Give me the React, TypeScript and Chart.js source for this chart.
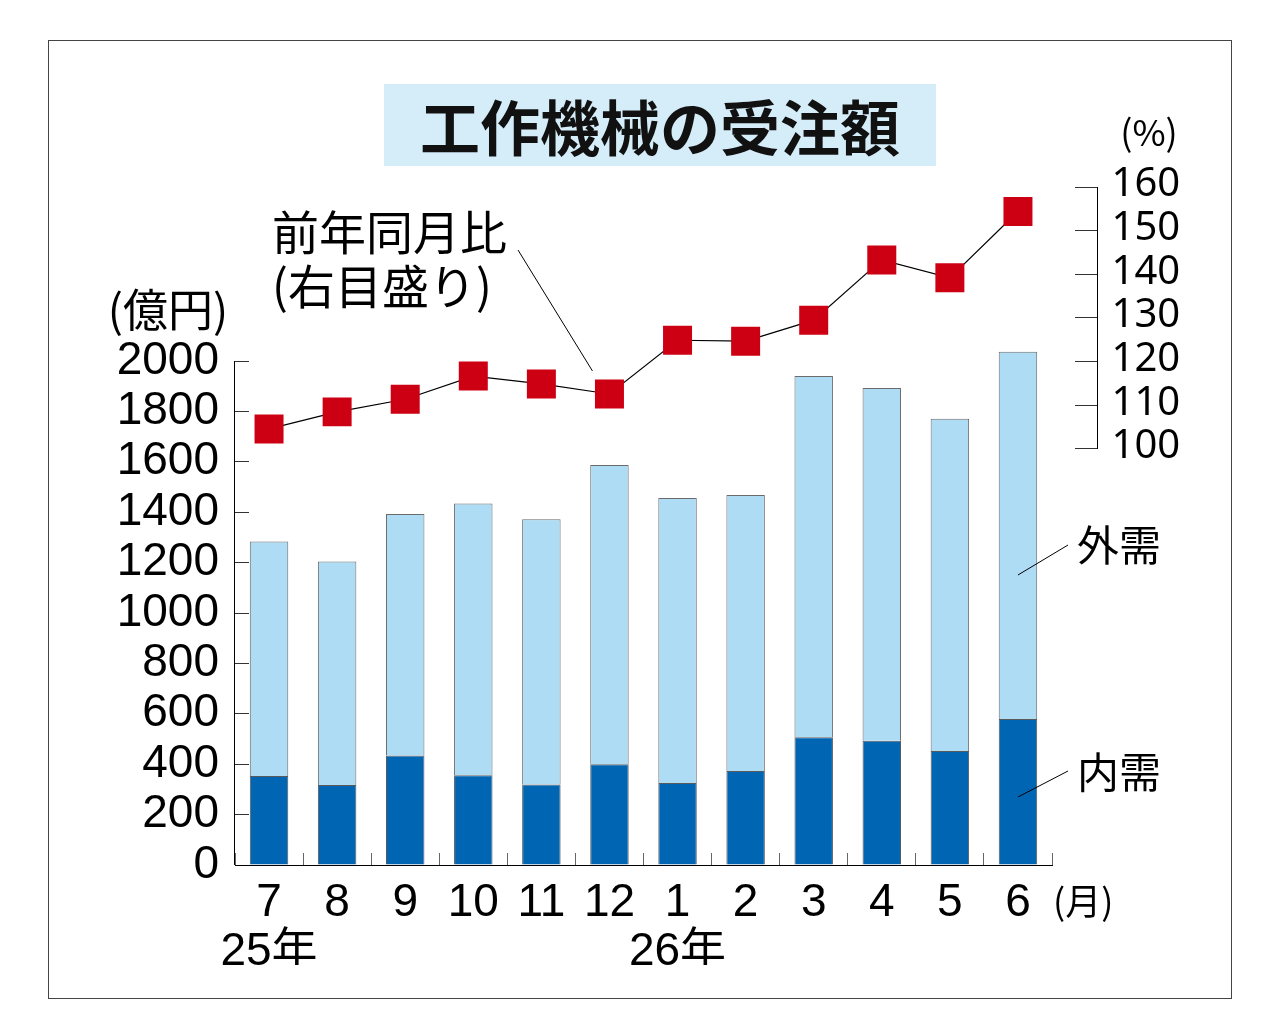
import { useEffect, useRef } from 'react';
import { Chart, registerables } from 'chart.js';

Chart.register(...registerables);

// 月（25年7月〜26年6月）
const months = [['7', '25年'], '8', '9', '10', '11', '12', ['1', '26年'], '2', '3', '4', '5', '6'];
// 内需・外需（億円）
const domestic = [353, 317, 435, 356, 319, 400, 325, 373, 507, 493, 452, 579];
const foreign = [931, 887, 958, 1079, 1053, 1187, 1131, 1095, 1433, 1400, 1319, 1458];
// 前年同月比（%）
const yoyRatio = [104.6, 108.5, 111.4, 116.7, 114.9, 112.6, 124.9, 124.7, 129.5, 143.3, 139.2, 154.4];

const amountTicks = [0, 200, 400, 600, 800, 1000, 1200, 1400, 1600, 1800, 2000];
const ratioTicks = [100, 110, 120, 130, 140, 150, 160];

// axis ranges chosen so both scales line up with the printed frame
const amountMax = 2690.5;
const ratioMin = 4.73;
const ratioMax = 160;
const ratioAxisAt = 12.175; // right scale sits past the last month

const jp = '"Noto Sans CJK JP", "Noto Sans", sans-serif';

const overlay = {
  id: 'overlay',
  afterDraw(chart) {
    const { ctx, chartArea, scales } = chart;
    const x = scales.x;
    const y = scales.y;
    const y1 = scales.y1;
    ctx.save();
    ctx.strokeStyle = '#000';
    ctx.lineWidth = 1;

    const line = (x1, yA, x2, yB) => {
      ctx.beginPath();
      ctx.moveTo(x1, yA);
      ctx.lineTo(x2, yB);
      ctx.stroke();
    };

    // left axis line (0 - 2000)
    const lx = Math.round(chartArea.left) - 0.5;
    line(lx, y.getPixelForValue(0), lx, y.getPixelForValue(amountTicks[amountTicks.length - 1]));

    // right axis line and labels
    const rx = Math.round(x.getPixelForValue(ratioAxisAt)) - 0.5;
    line(rx, y1.getPixelForValue(ratioTicks[0]), rx, y1.getPixelForValue(ratioTicks[ratioTicks.length - 1]));
    ctx.fillStyle = '#000';
    ctx.font = '40px "Noto Sans", sans-serif';
    ctx.textAlign = 'left';
    ctx.textBaseline = 'middle';
    ratioTicks.forEach((v) => {
      ctx.fillText(String(v), rx + 14, y1.getPixelForValue(v) - 2);
    });

    // unit labels
    ctx.textAlign = 'center';
    ctx.font = '45px ' + jp;
    ctx.fillText('(億円)', 168, 310);
    ctx.font = '36px ' + jp;
    ctx.fillText('(%)', 1149, 132);

    ctx.textAlign = 'left';
    ctx.font = '36px ' + jp;
    ctx.fillText('(月)', 1053, 901);

    // line annotation
    ctx.font = '47px ' + jp;
    ctx.fillText('前年同月比', 272, 232);
    ctx.fillText('(右目盛り)', 272, 286);
    line(518, 250, x.getPixelForValue(5) - 17, y1.getPixelForValue(yoyRatio[5]) - 23);

    // bar annotations
    const lastX = x.getPixelForValue(months.length - 1);
    ctx.font = '42px ' + jp;
    ctx.fillText('外需', 1077, 545);
    ctx.fillText('内需', 1077, 772);
    line(lastX, 575, 1068, 545);
    line(lastX, 797, 1068, 771);

    ctx.restore();
  },
};

const MachineToolOrders = () => {
  const chartRef = useRef(null);
  const chartInstanceRef = useRef(null);

  useEffect(() => {
    const ctx = chartRef.current.getContext('2d');

    if (chartInstanceRef.current) {
      chartInstanceRef.current.destroy();
    }

    chartInstanceRef.current = new Chart(ctx, {
      type: 'bar',
      data: {
        labels: months,
        datasets: [
          {
            type: 'line',
            label: '前年同月比',
            data: yoyRatio,
            yAxisID: 'y1',
            order: 0,
            borderColor: '#000',
            borderWidth: 1.2,
            pointStyle: 'rect',
            pointRadius: 20.5,
            pointHoverRadius: 20.5,
            pointBackgroundColor: '#cc0012',
            pointBorderWidth: 0,
            tension: 0,
          },
          {
            label: '内需',
            data: domestic,
            yAxisID: 'y',
            order: 1,
            backgroundColor: '#0066b3',
            borderColor: '#5a5a5a',
            borderWidth: 1,
            categoryPercentage: 1,
            barPercentage: 0.565,
          },
          {
            label: '外需',
            data: foreign,
            yAxisID: 'y',
            order: 2,
            backgroundColor: '#aedcf5',
            borderColor: '#6b6b6b',
            borderWidth: 1,
            categoryPercentage: 1,
            barPercentage: 0.565,
          },
        ],
      },
      options: {
        responsive: false,
        animation: false,
        events: [],
        layout: {
          padding: { left: 100, right: 231, top: 187, bottom: 70 },
        },
        plugins: {
          legend: { display: false },
          tooltip: { enabled: false },
        },
        scales: {
          x: {
            stacked: true,
            offset: true,
            afterFit: (scale) => {
              scale.height = 100;
            },
            grid: {
              display: true,
              offset: true,
              drawOnChartArea: false,
              drawTicks: true,
              tickLength: -12,
              color: '#666',
            },
            border: { display: true, color: '#000', width: 1 },
            ticks: {
              autoSkip: false,
              maxRotation: 0,
              color: '#000',
              padding: 25,
              font: { family: '"Liberation Sans", "Noto Sans CJK JP", sans-serif', size: 46, lineHeight: 1.08 },
            },
          },
          y: {
            stacked: true,
            min: 0,
            max: amountMax,
            afterFit: (scale) => {
              scale.width = 135;
            },
            afterBuildTicks: (scale) => {
              scale.ticks = amountTicks.map((v) => ({ value: v }));
            },
            grid: {
              display: true,
              drawOnChartArea: false,
              drawTicks: true,
              tickLength: -14,
              color: '#333',
            },
            border: { display: false },
            ticks: {
              color: '#000',
              padding: 30,
              callback: (v) => String(v),
              font: { family: '"Liberation Sans", sans-serif', size: 46, lineHeight: 1 },
            },
          },
          y1: {
            type: 'linear',
            position: { x: ratioAxisAt },
            min: ratioMin,
            max: ratioMax,
            afterBuildTicks: (scale) => {
              scale.ticks = ratioTicks.map((v) => ({ value: v }));
            },
            grid: {
              display: true,
              drawOnChartArea: false,
              drawTicks: true,
              tickLength: 23,
              color: '#333',
            },
            border: { display: false },
            ticks: { display: false },
          },
        },
      },
      plugins: [overlay],
    });

    return () => {
      if (chartInstanceRef.current) {
        chartInstanceRef.current.destroy();
        chartInstanceRef.current = null;
      }
    };
  }, []);

  return (
    <div style={{ position: 'absolute', left: 0, top: 0, width: 1283, height: 1035, background: '#fff' }}>
      <div
        style={{
          position: 'absolute',
          left: 48,
          top: 40,
          width: 1184,
          height: 959,
          boxSizing: 'border-box',
          border: '1px solid #444',
        }}
      />
      <canvas
        ref={chartRef}
        width={1283}
        height={1035}
        style={{ position: 'absolute', left: 0, top: 0, width: 1283, height: 1035 }}
      ></canvas>
      <div
        style={{
          position: 'absolute',
          left: 384,
          top: 84,
          width: 552,
          height: 82,
          background: '#d5edf9',
          textAlign: 'center',
          lineHeight: '82px',
          fontFamily: jp,
          fontWeight: 700,
          fontSize: 60,
          color: '#111',
        }}
      >
        工作機械の受注額
      </div>
    </div>
  );
};

export default function App() {
  return <MachineToolOrders />;
}
